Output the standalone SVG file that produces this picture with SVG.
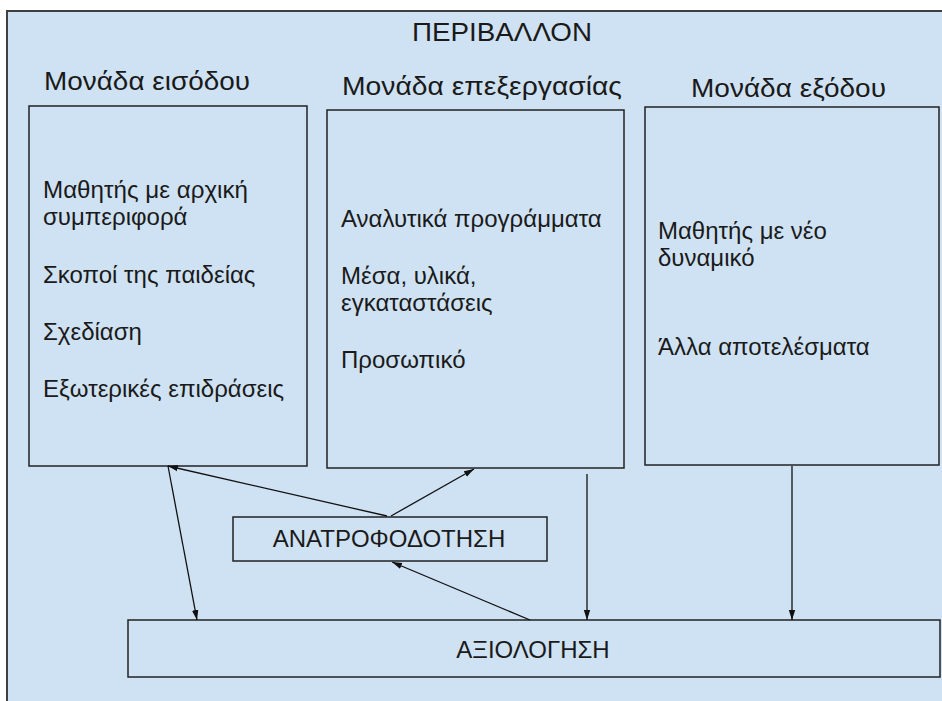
<svg xmlns="http://www.w3.org/2000/svg" width="942" height="701" viewBox="0 0 942 701">
<style>
  text { font-family: "Liberation Sans", Arial, sans-serif; fill: #1a1a1a; }
  .hdr { font-size: 26px; }
  .body { font-size: 24px; }
  .box { fill: none; stroke: #222; stroke-width: 1.5; }
  .conn { stroke: #111; stroke-width: 1.3; fill: none; marker-end: url(#arr); }
</style>
<defs>
  <marker id="arr" viewBox="0 0 10 10" refX="10" refY="5" markerWidth="10" markerHeight="10" markerUnits="userSpaceOnUse" orient="auto">
    <path d="M0,1.8 L10,5 L0,8.2 Z" fill="#111"/>
  </marker>
</defs>
<rect x="0" y="0" width="942" height="701" fill="#ffffff"/>
<g id="environment">
  <rect x="7" y="11" width="945" height="700" fill="#cfe2f3" stroke="#404040" stroke-width="2"/>
  <text x="412" y="41" font-size="26" textLength="180" lengthAdjust="spacingAndGlyphs">ΠΕΡΙΒΑΛΛΟΝ</text>
</g>
<g id="input-unit">
  <text class="hdr" x="44" y="90" textLength="206" lengthAdjust="spacingAndGlyphs">Μονάδα εισόδου</text>
  <rect class="box" x="29" y="106" width="278" height="360"/>
  <text class="body" x="43" y="198" textLength="205" lengthAdjust="spacingAndGlyphs">Μαθητής με αρχική</text>
  <text class="body" x="43" y="225">συμπεριφορά</text>
  <text class="body" x="43" y="283">Σκοποί της παιδείας</text>
  <text class="body" x="43" y="340">Σχεδίαση</text>
  <text class="body" x="43" y="397">Εξωτερικές επιδράσεις</text>
</g>
<g id="processing-unit">
  <text class="hdr" x="342" y="95" textLength="280" lengthAdjust="spacingAndGlyphs">Μονάδα επεξεργασίας</text>
  <rect class="box" x="327" y="110" width="297" height="358"/>
  <text class="body" x="341" y="227">Αναλυτικά προγράμματα</text>
  <text class="body" x="341" y="284">Μέσα, υλικά,</text>
  <text class="body" x="341" y="311">εγκαταστάσεις</text>
  <text class="body" x="341" y="368">Προσωπικό</text>
</g>
<g id="output-unit">
  <text class="hdr" x="691" y="97" textLength="195" lengthAdjust="spacingAndGlyphs">Μονάδα εξόδου</text>
  <rect class="box" x="645" y="107" width="294" height="358"/>
  <text class="body" x="658" y="239">Μαθητής με νέο</text>
  <text class="body" x="658" y="266">δυναμικό</text>
  <text class="body" x="658" y="355">Άλλα αποτελέσματα</text>
</g>
<g id="feedback">
  <rect class="box" x="233" y="517" width="314" height="44"/>
  <text class="body" x="389" y="547" text-anchor="middle">ΑΝΑΤΡΟΦΟΔΟΤΗΣΗ</text>
</g>
<g id="evaluation">
  <rect class="box" x="128" y="620" width="812" height="57"/>
  <text class="body" x="533" y="658" text-anchor="middle">ΑΞΙΟΛΟΓΗΣΗ</text>
</g>
<g id="connectors">
  <line class="conn" x1="387" y1="516" x2="168" y2="466"/>
  <line class="conn" x1="391" y1="516" x2="474" y2="469"/>
  <line class="conn" x1="168" y1="466" x2="197" y2="620"/>
  <line class="conn" x1="530" y1="620" x2="392" y2="562"/>
  <line class="conn" x1="587" y1="474" x2="587" y2="620"/>
  <line class="conn" x1="792" y1="466" x2="792" y2="620"/>
</g>
</svg>
